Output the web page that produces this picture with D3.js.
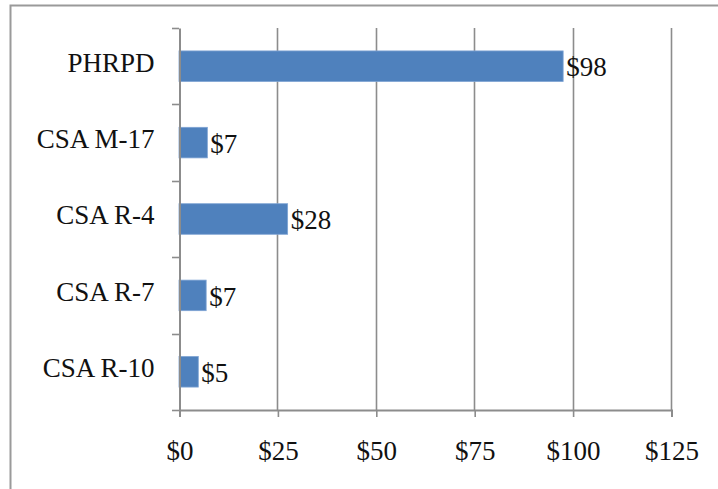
<!DOCTYPE html>
<html><head><meta charset="utf-8">
<script src="https://cdn.jsdelivr.net/npm/d3@7"></script>
<style>
html,body{margin:0;padding:0;background:#fff;}
svg text{font-family:"Liberation Serif","Times New Roman",serif;fill:#111;}
</style></head>
<body><svg id="c" width="718" height="489"></svg>
<script>
const categories = ["PHRPD","CSA M-17","CSA R-4","CSA R-7","CSA R-10"];
const values = [97.6, 7.2, 27.6, 6.9, 4.9];
const valueLabels = ["$98","$7","$28","$7","$5"];
const tickValues = [0,25,50,75,100,125];
const tickLabels = ["$0","$25","$50","$75","$100","$125"];

const svg = d3.select("#c");
const W = 718, H = 489;
const FS = 27;
const m = {left:179, right:47, top:28, bottom:79};
const x = d3.scaleLinear().domain([0,125]).range([m.left, W - m.right]);
const y = d3.scaleBand().domain(categories).range([m.top, H - m.bottom]).paddingInner(0.6).paddingOuter(0.3);
const yb = d3.scaleBand().domain(categories).range([m.top, H - m.bottom]);

// outer border
svg.append("rect").attr("x",10.5).attr("y",5.5).attr("width",W+10).attr("height",H+10)
  .attr("fill","none").attr("stroke","#9a9a9a").attr("stroke-width",2);

// gridlines
svg.append("g").selectAll("line").data(tickValues.slice(1)).join("line")
  .attr("x1",d=>Math.round(x(d))+0.5).attr("x2",d=>Math.round(x(d))+0.5)
  .attr("y1",m.top).attr("y2",H-m.bottom)
  .attr("stroke","#8c8c8c").attr("stroke-width",1.6);

// bars
svg.append("g").selectAll("rect").data(categories).join("rect")
  .attr("x",x(0)).attr("y",(d)=>y(d))
  .attr("width",(d,i)=>x(values[i])-x(0)).attr("height",y.bandwidth())
  .attr("fill","#4f81bd").attr("stroke","#7ea3d3").attr("stroke-width",0.8);

// value labels
svg.append("g").selectAll("text").data(categories).join("text")
  .attr("x",(d,i)=>x(values[i])+3).attr("y",d=>y(d)+y.bandwidth()/2)
  .attr("dy","0.38em").attr("font-size",FS).text((d,i)=>valueLabels[i]);

// x axis
const xAxis = d3.axisBottom(x).tickValues(tickValues).tickFormat((d,i)=>tickLabels[i]).tickSize(7).tickPadding(24);
const gx = svg.append("g").attr("transform",`translate(0.5,${H-m.bottom})`).call(xAxis);
gx.attr("font-family",null).attr("font-size",null);
gx.select(".domain").attr("stroke","#8c8c8c").attr("stroke-width",2);
gx.selectAll(".tick line").attr("stroke","#8c8c8c").attr("stroke-width",1.6);
gx.selectAll(".tick text").attr("font-size",FS).attr("fill","#111");

// y axis
const yAxis = d3.axisLeft(yb).tickSize(0).tickPadding(25);
const gy = svg.append("g").attr("transform",`translate(${m.left+0.5},0)`).call(yAxis);
gy.attr("font-family",null).attr("font-size",null);
gy.select(".domain").attr("stroke","#8c8c8c").attr("stroke-width",2);
gy.selectAll(".tick text").attr("font-size",FS).attr("fill","#111").attr("dy","0.2em");
// category separator ticks
svg.append("g").selectAll("line").data(categories.concat(["__end"])).join("line")
  .attr("x1",m.left-7).attr("x2",m.left)
  .attr("y1",(d,i)=>Math.round(m.top + i*yb.step())+0.5).attr("y2",(d,i)=>Math.round(m.top + i*yb.step())+0.5)
  .attr("stroke","#8c8c8c").attr("stroke-width",1.6);
</script></body></html>
